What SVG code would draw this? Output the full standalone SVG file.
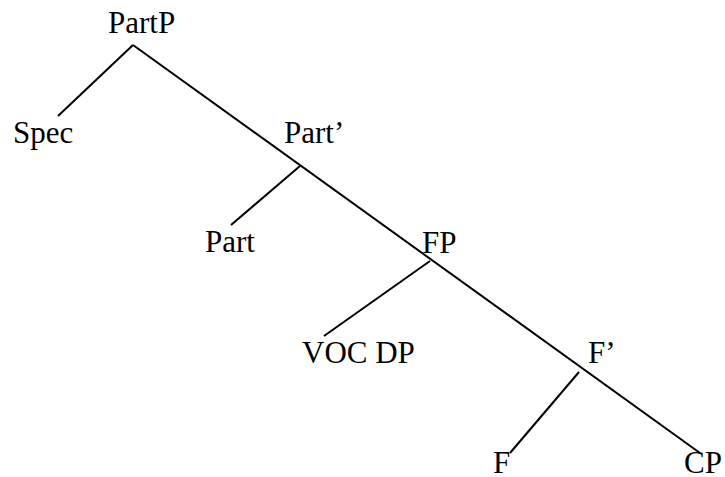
<svg xmlns="http://www.w3.org/2000/svg" width="725" height="477" viewBox="0 0 725 477">
<style>
text { font-family: "Liberation Serif", "Times New Roman", serif; font-size: 31px; fill: #000; }
line { stroke: #000; stroke-width: 2; }
</style>
<rect width="725" height="477" fill="#fff"/>
<g id="connectors">
<line x1="133" y1="45" x2="700" y2="453"/>
<line x1="133" y1="45" x2="58" y2="116"/>
<line x1="300" y1="166" x2="231" y2="225"/>
<line x1="430" y1="261" x2="324" y2="336"/>
<line x1="579" y1="372" x2="510" y2="453"/>
</g>
<g id="n-partp"><text x="108" y="33">PartP</text></g>
<g id="n-spec"><text x="13" y="143">Spec</text></g>
<g id="n-partbar"><text x="284" y="143">Part’</text></g>
<g id="n-part"><text x="205" y="252">Part</text></g>
<g id="n-fp"><text x="422" y="253">FP</text></g>
<g id="n-vocdp"><text x="302" y="363">VOC DP</text></g>
<g id="n-fbar"><text x="588" y="363">F’</text></g>
<g id="n-f"><text x="493" y="473">F</text></g>
<g id="n-cp"><text x="684" y="473">CP</text></g>
</svg>
